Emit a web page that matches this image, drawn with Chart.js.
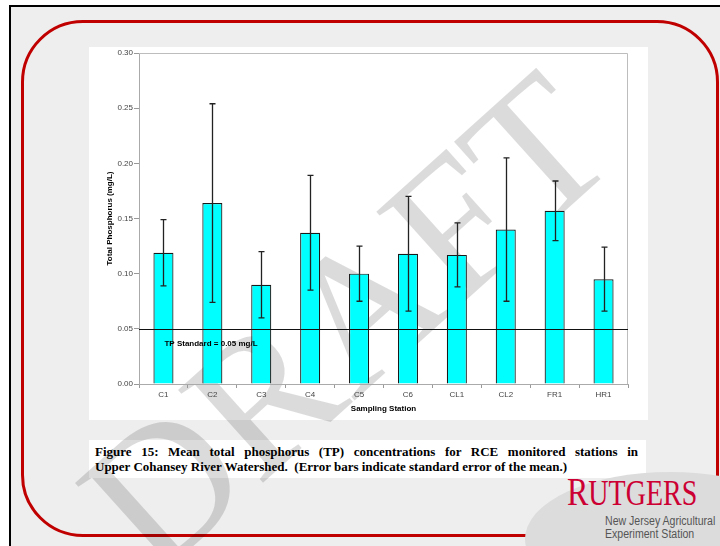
<!DOCTYPE html>
<html>
<head>
    <title>Figure 15 - Total Phosphorus</title>
    <script src="https://cdn.jsdelivr.net/npm/chart.js"></script>
    <style>
        body { margin: 0; width: 720px; height: 546px; overflow: hidden; background: #fff; position: relative; font-family: "Liberation Sans", Arial, sans-serif; }
        #frame { position: absolute; left: 9px; top: 5px; width: 720px; height: 560px; border-left: 2px solid #000; border-top: 2px solid #000; background: #eeeeee; }
        #redbox { position: absolute; left: 21px; top: 20px; width: 692px; height: 511px; border: 3px solid #c00000; border-radius: 62px; }
        .panel { position: absolute; background: #fff; }
        #watermark { position: absolute; left: 346px; top: 322px; transform: translate(-50%, -50%) rotate(-42deg);
            font-family: "Liberation Serif", "Times New Roman", serif; font-size: 192px;
            line-height: 1; color: rgba(0,0,0,0.14); white-space: nowrap; }
        #wrap { position: absolute; left: 89px; top: 47px; width: 559px; height: 373px; }
        #caption { position: absolute; left: 95px; top: 444px; width: 543px; font-family: "Liberation Serif", "Times New Roman", serif;
            font-weight: bold; font-size: 13px; line-height: 15px; color: #000; white-space: nowrap; }
        #caption .l1 { text-align: justify; text-align-last: justify; white-space: normal; }
        #ellipse { position: absolute; left: 525px; top: 472px; width: 290px; height: 134px; border-radius: 50%; background: #dcdcdc; }
        #rutgers { position: absolute; left: 567px; top: 472px; color: #cc0033; font-family: "Liberation Serif", serif; transform: scaleX(0.8); transform-origin: left top; line-height: 1; white-space: nowrap; }
        #njaes { position: absolute; left: 605px; top: 515px; color: #555; font-size: 12px; line-height: 13px; white-space: nowrap; transform: scaleX(0.88); transform-origin: left top; }
    </style>
</head>
<body>
    <div id="frame"></div>
    <div id="redbox"></div>
    <div class="panel" style="left:89px; top:47px; width:559px; height:373px;"></div>
    <div class="panel" style="left:89px; top:440px; width:557px; height:38px;"></div>
    <div id="watermark">DRAFT</div>
    <div id="wrap"><canvas id="tpChart" width="559" height="373"></canvas></div>
    <div id="caption">
        <div class="l1">Figure 15: Mean total phosphorus (TP) concentrations for RCE monitored stations in</div>
        <div>Upper Cohansey River Watershed.&nbsp; (Error bars indicate standard error of the mean.)</div>
    </div>
    <div id="ellipse"></div>
    <div id="rutgers"><span style="font-size:40px">R</span><span style="font-size:35px">UTGERS</span></div>
    <div id="njaes">New Jersey Agricultural<br>Experiment Station</div>

    <script>
        // 站点与数值
        const stations = ['C1', 'C2', 'C3', 'C4', 'C5', 'C6', 'CL1', 'CL2', 'FR1', 'HR1'];
        const meanTP = [0.119, 0.164, 0.090, 0.137, 0.100, 0.118, 0.117, 0.140, 0.157, 0.095];
        const stdErr = [0.030, 0.090, 0.030, 0.052, 0.025, 0.052, 0.029, 0.065, 0.027, 0.029];
        const yTicks = [0.00, 0.05, 0.10, 0.15, 0.20, 0.25, 0.30];
        const TP_STANDARD = 0.05;

        // 误差线 + 标准线 + 边框
        const extras = {
            id: 'extras',
            afterDatasetsDraw(chart) {
                const { ctx, chartArea: a, scales: { x, y } } = chart;
                ctx.save();
                // plot frame (top / right)
                ctx.strokeStyle = '#bdbdbd';
                ctx.lineWidth = 1;
                ctx.beginPath();
                ctx.moveTo(a.left, a.top + 0.5);
                ctx.lineTo(a.right - 0.5, a.top + 0.5);
                ctx.lineTo(a.right - 0.5, a.bottom);
                ctx.stroke();

                // TP standard line
                const ys = Math.round(y.getPixelForValue(TP_STANDARD)) + 0.5;
                ctx.strokeStyle = '#111';
                ctx.beginPath();
                ctx.moveTo(a.left, ys);
                ctx.lineTo(a.right, ys);
                ctx.stroke();

                // error bars
                ctx.strokeStyle = '#222';
                ctx.lineWidth = 1.3;
                meanTP.forEach((v, i) => {
                    const cx = Math.round(x.getPixelForValue(i)) + 0.5;
                    const yt = y.getPixelForValue(v + stdErr[i]);
                    const yb = y.getPixelForValue(v - stdErr[i]);
                    ctx.beginPath();
                    ctx.moveTo(cx, yt); ctx.lineTo(cx, yb);
                    ctx.moveTo(cx - 3, yt); ctx.lineTo(cx + 3, yt);
                    ctx.moveTo(cx - 3, yb); ctx.lineTo(cx + 3, yb);
                    ctx.stroke();
                });

                // label
                ctx.fillStyle = '#000';
                ctx.font = 'bold 8px "Liberation Sans", Arial';
                ctx.textBaseline = 'middle';
                ctx.textAlign = 'left';
                ctx.fillText('TP Standard = 0.05 mg/L', x.getPixelForValue(0) + 1, ys + 14);
                ctx.restore();
            }
        };

        new Chart(document.getElementById('tpChart'), {
            type: 'bar',
            data: {
                labels: stations,
                datasets: [{
                    data: meanTP,
                    backgroundColor: '#00ffff',
                    borderColor: '#1a1a1a',
                    borderWidth: 1.2,
                    barPercentage: 0.41,
                    categoryPercentage: 1
                }]
            },
            options: {
                responsive: false,
                animation: false,
                devicePixelRatio: 1,
                layout: { padding: { left: 0, top: 6, right: 20, bottom: 0 } },
                plugins: { legend: { display: false }, tooltip: { enabled: false } },
                scales: {
                    x: {
                        grid: { offset: true, drawOnChartArea: false, color: '#999', tickLength: 4 },
                        border: { color: '#aaa' },
                        ticks: { color: '#444', font: { size: 8, family: '"Liberation Sans", Arial' }, padding: 2, maxRotation: 0 },
                        title: { display: true, text: 'Sampling Station', color: '#000', font: { size: 8, weight: 'bold', family: '"Liberation Sans", Arial' }, padding: { top: 2, bottom: 6 } },
                        afterFit: s => { s.height = 36; }
                    },
                    y: {
                        min: 0, max: 0.3,
                        afterBuildTicks: s => { s.ticks = yTicks.map(v => ({ value: v })); },
                        grid: { drawOnChartArea: false, color: '#999', tickLength: 5 },
                        border: { color: '#aaa' },
                        ticks: { color: '#444', font: { size: 8, family: '"Liberation Sans", Arial' }, padding: 1, callback: v => v.toFixed(2) },
                        title: { display: true, text: 'Total Phosphorus (mg/L)', color: '#000', font: { size: 8, weight: 'bold', family: '"Liberation Sans", Arial' }, padding: { top: 16, bottom: 0 } },
                        afterFit: s => { s.width = 50; }
                    }
                }
            },
            plugins: [extras]
        });
    </script>
</body>
</html>
